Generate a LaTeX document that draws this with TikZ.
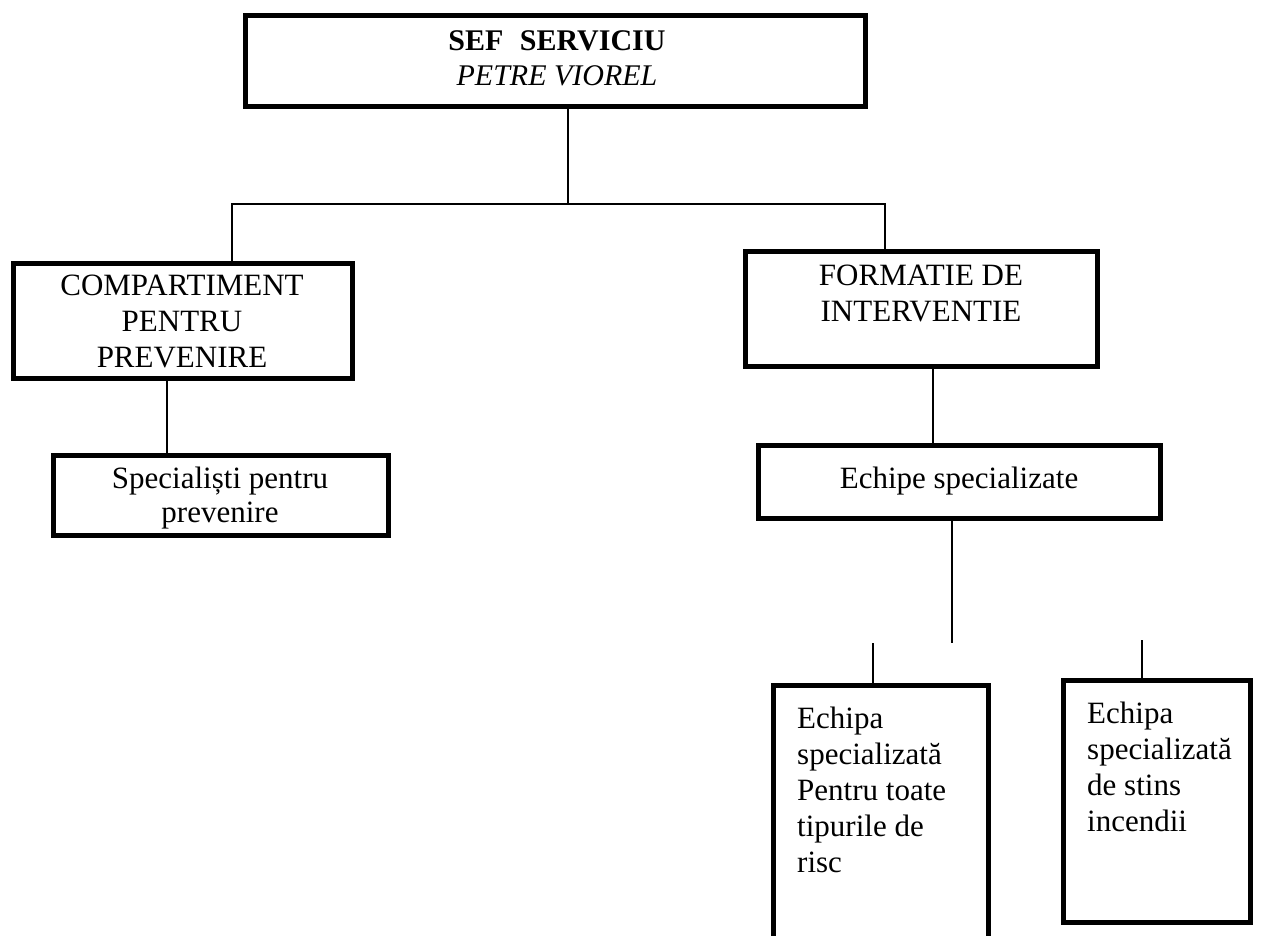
\documentclass[tikz,border=0pt]{standalone}
\usepackage{fontspec}
\setmainfont{Liberation Serif}
\begin{document}
\begin{tikzpicture}[x=1pt,y=-1pt,
  box/.style={draw=black, line width=5pt, inner sep=0pt, rectangle},
  conn/.style={draw=black, line width=2pt},
  txt/.style={inner sep=0pt, font=\fontsize{31}{36}\selectfont, align=center, anchor=north},
  ltxt/.style={inner sep=0pt, font=\fontsize{31}{36}\selectfont, align=left, anchor=north west}]
\useasboundingbox (0,0) rectangle (1267,935);
\clip (0,0) rectangle (1267,935);

% boxes
\node[box, minimum width=620pt, minimum height=91pt]  (sef)   at (555,60.5)   {};
\node[box, minimum width=339pt, minimum height=115pt] (comp)  at (182.5,320.5) {};
\node[box, minimum width=335pt, minimum height=80pt]  (spec)  at (220.5,495)  {};
\node[box, minimum width=352pt, minimum height=115pt] (form)  at (921,308.5)  {};
\node[box, minimum width=402pt, minimum height=73pt]  (ech)   at (959,481.5)  {};
\node[box, minimum width=215pt, minimum height=290pt] (risc)  at (880.5,830)  {};
\node[box, minimum width=187pt, minimum height=242pt] (stins) at (1156.5,801) {};

% texts
\node[txt, font=\fontsize{30}{35}\selectfont] (sefT) at (557,30)
  {{\bfseries SEF\hspace{0.55em}SERVICIU}\\{\itshape PETRE VIOREL}};
\node[txt] (compT) at (182,274.5) {COMPARTIMENT\\PENTRU\\PREVENIRE};
\node[txt, font=\fontsize{31}{34}\selectfont] (specT) at (220,467) {Specialiști pentru\\prevenire};
\node[txt] (formT) at (921,264.5) {FORMATIE DE\\INTERVENTIE};
\node[inner sep=0pt, font=\fontsize{31}{36}\selectfont, anchor=base] (echT) at (959,488) {Echipe specializate};
\node[ltxt] (riscT) at (797,707) {Echipa\\specializată\\Pentru toate\\tipurile de\\risc};
\node[ltxt] (stinsT) at (1087,702) {Echipa\\specializată\\de stins\\incendii};

% connectors
\coordinate (j)  at (568,204);
\coordinate (jl) at (232,204);
\coordinate (jr) at (885,204);
\draw[conn] (sef.south -| j) -- (j);
\draw[conn] (comp.north -| jl) -- (jl) -- (jr) -- (form.north -| jr);
\coordinate (cs) at (167,0);
\draw[conn] (comp.south -| cs) -- (spec.north -| cs);
\coordinate (fe) at (933,0);
\draw[conn] (form.south -| fe) -- (ech.north -| fe);
\coordinate (ee) at (952,643);
\draw[conn] (ech.south -| ee) -- (ee);
\coordinate (rs) at (873,643);
\draw[conn] (rs) -- (risc.north -| rs);
\coordinate (ss) at (1142,640);
\draw[conn] (ss) -- (stins.north -| ss);
\end{tikzpicture}
\end{document}
